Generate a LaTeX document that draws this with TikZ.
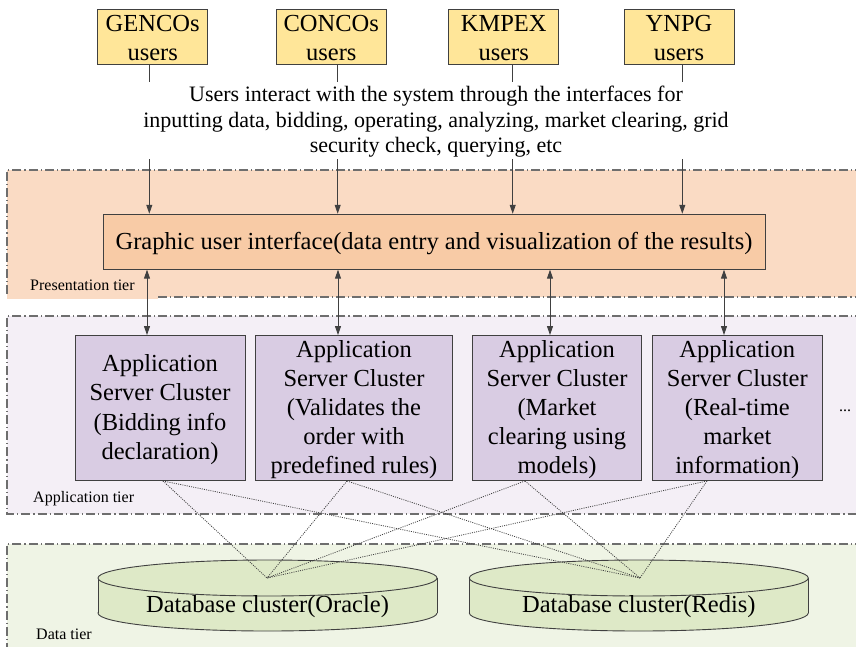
\documentclass[tikz,border=0pt]{standalone}
\usepackage{fontspec}
\setmainfont{Liberation Serif}
\usetikzlibrary{arrows.meta}
\definecolor{lc}{HTML}{404040}
\definecolor{tierc}{HTML}{6E6E6E}
\definecolor{userfill}{HTML}{FFE699}
\definecolor{presfill}{HTML}{FADBC4}
\definecolor{guifill}{HTML}{F8CBA6}
\definecolor{appfill}{HTML}{F4EFF6}
\definecolor{srvfill}{HTML}{D9CCE3}
\definecolor{datafill}{HTML}{EFF4E5}
\definecolor{dbfill}{HTML}{DEE9C7}
\tikzset{
  userbox/.style={draw=lc, line width=0.9pt, fill=userfill, minimum width=110pt, minimum height=55pt, inner sep=0pt, align=center, font=\fontsize{24.5}{29}\selectfont, text depth=0pt},
  guibox/.style={draw=lc, line width=0.9pt, fill=guifill, minimum width=662pt, minimum height=55pt, inner sep=0pt, font=\fontsize{24.5}{29}\selectfont},
  srvbox/.style={draw=lc, line width=0.9pt, fill=srvfill, minimum height=145pt, inner sep=0pt, align=center, font=\fontsize{24.5}{29.2}\selectfont},
  tierborder/.style={draw=tierc, line width=1.2pt, dash pattern=on 9pt off 3pt on 1.2pt off 3pt},
  tierlabel/.style={anchor=west, inner sep=0pt, font=\fontsize{16}{19}\selectfont},
  conn/.style={draw=lc, line width=0.9pt},
  arr/.style={conn, -{Triangle[length=9pt,width=6pt]}},
  darr/.style={conn, {Triangle[length=9pt,width=6pt]}-{Triangle[length=9pt,width=6pt]}},
  dotln/.style={draw=black!75, line width=0.8pt, dash pattern=on 1pt off 1.2pt},
  dbtext/.style={inner sep=0pt, font=\fontsize{24.5}{29}\selectfont}
}
\begin{document}
\begin{tikzpicture}[x=1pt,y=-1pt]
\useasboundingbox (0,0) rectangle (856,646);
% tiers
\fill[presfill] (7,170) rectangle (880,297);
\fill[presfill] (7,297) rectangle (158,299);
\draw[tierborder] (880,170) -- (7,170) -- (7,297);
\draw[tierborder] (158,297) -- (880,297);
\fill[appfill] (7,316) rectangle (880,514);
\draw[tierborder] (880,316) -- (7,316) -- (7,514) -- (880,514);
\fill[datafill] (7,544) rectangle (880,680);
\draw[tierborder] (880,544) -- (7,544) -- (7,680);
\node[tierlabel] (lp) at (30,285.5) {Presentation tier};
\node[tierlabel] (la) at (33,498.5) {Application tier};
\node[tierlabel] (ld) at (36,634.5) {Data tier};
% users
\node[userbox] (u1) at (152.7,36.5) {};
\node[userbox] (u2) at (331.3,36.5) {};
\node[userbox] (u3) at (503.7,36.5) {};
\node[userbox] (u4) at (679,36.5) {};
\foreach \i/\t in {1/GENCOs, 2/CONCOs, 3/KMPEX, 4/YNPG}{
  \node[align=center, inner sep=0pt, font=\fontsize{24.5}{29}\selectfont] (ut\i) at ([yshift=-1.5pt]u\i.center) {\t\\users};
}
\node[align=center, inner sep=0pt, font=\fontsize{22}{25.5}\selectfont] (txt) at (436,122)
  {Users interact with the system through the interfaces for\\inputting data, bidding, operating, analyzing, market clearing, grid\\security check, querying, etc};
\node[guibox] (gui) at (434,241.7) {};
\node[inner sep=0pt, font=\fontsize{24.5}{29}\selectfont] (guit) at ([yshift=-1.5pt]gui.center) {Graphic user interface(data entry and visualization of the results)};
% servers
\node[srvbox, minimum width=170pt] (s1) at (160,408) {};
\node[srvbox, minimum width=197pt] (s2) at (354,408) {};
\node[srvbox, minimum width=169pt] (s3) at (557,408) {};
\node[srvbox, minimum width=170pt] (s4) at (737.3,408) {};
\foreach \i/\t in {1/{Application\\Server Cluster\\(Bidding info\\declaration)},
                   2/{Application\\Server Cluster\\(Validates the\\order with\\predefined rules)},
                   3/{Application\\Server Cluster\\(Market\\clearing using\\models)},
                   4/{Application\\Server Cluster\\(Real-time\\market\\information)}}{
  \node[align=center, inner sep=0pt, font=\fontsize{24.5}{29.2}\selectfont] (st\i) at ([yshift=-1.5pt]s\i.center) {\t};
}
\node[inner sep=0pt, font=\fontsize{16}{19}\selectfont] (dots) at (845,411) {...};
% user connectors
\coordinate (a1) at (149.3,0);
\coordinate (a2) at (337.7,0);
\coordinate (a3) at (512.7,0);
\coordinate (a4) at (682.3,0);
\coordinate (tb) at (0,159);
\foreach \i in {1,2,3,4}{
  \draw[conn] (u\i.south -| a\i) -- ++(0,18);
  \draw[arr] (tb -| a\i) -- (gui.north -| a\i);
}
% gui - servers
\coordinate (b1) at (147,0);
\coordinate (b2) at (338,0);
\coordinate (b3) at (550,0);
\coordinate (b4) at (724,0);
\foreach \i in {1,2,3,4}{
  \draw[darr] (gui.south -| b\i) -- (s\i.north -| b\i);
}
% databases
\foreach \n/\cx/\lab in {ora/267.5/{Database cluster(Oracle)}, red/638.8/{Database cluster(Redis)}}{
  \fill[dbfill, draw=lc, line width=0.9pt] (\cx,613) ellipse [x radius=169.5, y radius=18];
  \fill[dbfill] (\cx-169.5,578) rectangle (\cx+169.5,613);
  \draw[lc, line width=0.9pt] (\cx-169.5,578) -- (\cx-169.5,613) (\cx+169.5,578) -- (\cx+169.5,613);
  \fill[dbfill, draw=lc, line width=0.9pt] (\cx,578) ellipse [x radius=169.5, y radius=18];
  \node[dbtext] (\n) at (\cx,606.5) {\lab};
}
\coordinate (oraTop) at (267,578);
\coordinate (redTop) at (640,578);
% dotted links
\coordinate (d1) at (163,0);
\coordinate (d2) at (347,0);
\coordinate (d3) at (525,0);
\coordinate (d4) at (707,0);
\foreach \i in {1,2,3,4}{
  \draw[dotln] (s\i.south -| d\i) -- (oraTop);
  \draw[dotln] (s\i.south -| d\i) -- (redTop);
}
\end{tikzpicture}
\end{document}
